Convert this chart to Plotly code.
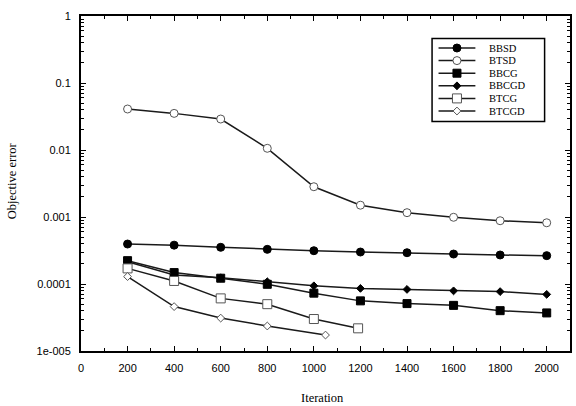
import numpy as np
import plotly.graph_objects as go

iters = [200, 400, 600, 800, 1000, 1200, 1400, 1600, 1800, 2000]
bbsd = [3.95e-4, 3.8e-4, 3.53e-4, 3.29e-4, 3.14e-4, 3.0e-4, 2.93e-4, 2.8e-4, 2.71e-4, 2.65e-4]
btsd = [0.0409, 0.0352, 0.029, 0.0106, 0.00283, 0.0015, 0.00116, 0.00099, 0.00088, 0.00082]
bbcg = [2.23e-4, 1.48e-4, 1.22e-4, 9.9e-5, 7.3e-5, 5.6e-5, 5.1e-5, 4.8e-5, 4.0e-5, 3.7e-5]
bbcgd = [2.15e-4, 1.36e-4, 1.24e-4, 1.08e-4, 9.4e-5, 8.6e-5, 8.3e-5, 7.9e-5, 7.7e-5, 7.0e-5]
btcg_x = [200, 400, 600, 800, 1000, 1190]
btcg = [1.71e-4, 1.11e-4, 6.1e-5, 5.0e-5, 3.0e-5, 2.18e-5]
btcgd_x = [200, 400, 600, 800, 1050]
btcgd = [1.29e-4, 4.6e-5, 3.1e-5, 2.36e-5, 1.73e-5]

names = ["BBSD", "BTSD", "BBCG", "BBCGD", "BTCG", "BTCGD"]
xs = [iters, iters, iters, iters, btcg_x, btcgd_x]
ys = [bbsd, btsd, bbcg, bbcgd, btcg, btcgd]
styles = [
    dict(symbol="circle", size=8, color="black", line=dict(color="black", width=1)),
    dict(symbol="circle", size=8, color="white", line=dict(color="#555", width=1)),
    dict(symbol="square", size=8, color="black", line=dict(color="black", width=1)),
    dict(symbol="diamond", size=6, color="black", line=dict(color="black", width=1)),
    dict(symbol="square", size=9, color="white", line=dict(color="#555", width=1)),
    dict(symbol="diamond", size=6, color="white", line=dict(color="#555", width=1)),
]

xtick_vals = list(range(0, 2001, 200))
ytick_vals = [1e-5, 1e-4, 1e-3, 1e-2, 1e-1, 1]
ytick_text = ["1e-005", "0.0001", "0.001", "0.01", "0.1", "1"]

fig = go.Figure()
for n, x, y, m in zip(names, xs, ys, styles):
    fig.add_trace(go.Scatter(x=x, y=y, mode="lines+markers", name=n,
                             line=dict(color="#1a1a1a", width=1.5), marker=m,
                             showlegend=False))

# manual compact legend (overlay axis in paper-like units)
L, R, T, B = 81, 572, 16, 351
def px(xp):
    return (xp - L) / (R - L)
def py(yp):
    return 1 - (yp - T) / (B - T)

leg_y = [48, 60.6, 73.2, 85.8, 98.4, 111]
for n, m, yy in zip(names, styles, leg_y):
    fig.add_trace(go.Scatter(x=[px(440), px(477)], y=[py(yy), py(yy)], mode="lines",
                             line=dict(color="#1a1a1a", width=1.5), xaxis="x2", yaxis="y2",
                             showlegend=False, hoverinfo="skip"))
    fig.add_trace(go.Scatter(x=[px(458.5)], y=[py(yy)], mode="markers", marker=m,
                             xaxis="x2", yaxis="y2", showlegend=False, hoverinfo="skip"))
    fig.add_annotation(x=px(489), y=py(yy), xref="x2", yref="y2", text=n, showarrow=False,
                       xanchor="left", yanchor="middle",
                       font=dict(family="Liberation Serif", size=10.5, color="black"))

fig.add_shape(type="rect", xref="paper", yref="paper", x0=px(433.5), x1=px(546.5),
              y0=py(121.5), y1=py(38.5), line=dict(color="black", width=1.5))

axis_common = dict(showline=True, linecolor="black", linewidth=2, mirror="allticks",
                   ticks="inside", tickcolor="black", tickwidth=1, ticklen=5,
                   showgrid=False, zeroline=False,
                   tickfont=dict(family="Liberation Sans", size=11, color="black"))

minor_y = [d * 10.0 ** e for e in range(-5, 0) for d in range(2, 10)]

fig.update_layout(
    width=576, height=406,
    margin=dict(l=L, r=576 - R, t=T, b=406 - B),
    paper_bgcolor="white", plot_bgcolor="white",
    xaxis=dict(range=[0, 2100], tickvals=xtick_vals, ticklabelstandoff=6,
               minor=dict(ticks="inside", dtick=100, ticklen=3, tickcolor="black", showgrid=False),
               **axis_common),
    yaxis=dict(type="log", range=[-5, 0], tickvals=ytick_vals, ticktext=ytick_text,
               ticklabelstandoff=6,
               minor=dict(ticks="inside", tickvals=minor_y, ticklen=3, tickcolor="black", showgrid=False),
               **axis_common),
    xaxis2=dict(range=[0, 1], overlaying="x", visible=False, fixedrange=True),
    yaxis2=dict(range=[0, 1], overlaying="y", visible=False, fixedrange=True),
    showlegend=False,
)

fig.add_annotation(x=px(323), y=py(398), xref="paper", yref="paper", text="Iteration",
                   showarrow=False, xanchor="center", yanchor="middle",
                   font=dict(family="Liberation Serif", size=12.5, color="black"))
fig.add_annotation(x=px(12), y=py(181), xref="paper", yref="paper", text="Objective error",
                   showarrow=False, textangle=-90, xanchor="center", yanchor="middle",
                   font=dict(family="Liberation Serif", size=12.5, color="black"))

fig.write_html("out.html")
